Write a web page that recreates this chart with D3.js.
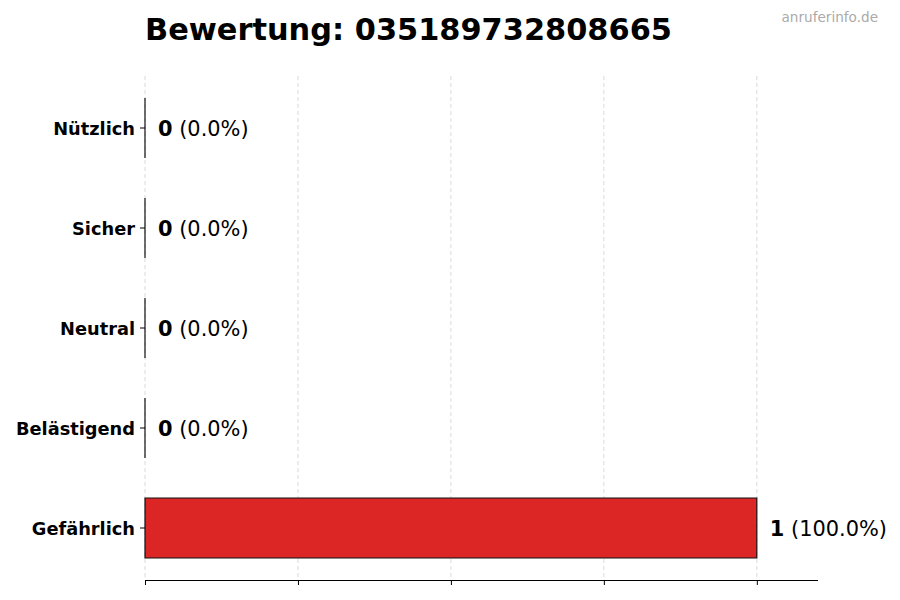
<!DOCTYPE html>
<html><head><meta charset="utf-8">
<script src="https://cdn.jsdelivr.net/npm/d3@7"></script>
<style>body{margin:0;background:#fff}svg{display:block}text{font-family:"DejaVu Sans",sans-serif}</style>
</head><body>
<script>
const categories = ["Nützlich","Sicher","Neutral","Belästigend","Gefährlich"];
const counts = [0,0,0,0,1];
const percents = ["0.0%","0.0%","0.0%","0.0%","100.0%"];
const xTicks = [0,0.25,0.5,0.75,1.0];
const title = "Bewertung: 035189732808665";
const watermark = "anruferinfo.de";

const W=900,H=600;
const svg=d3.select("body").append("svg").attr("width",W).attr("height",H);
const x=d3.scaleLinear().domain([0,1.1]).range([145,818]);
// category index scale (0 = top)
const y=d3.scaleLinear().domain([-0.52,4.52]).range([76,580]);
const barH=0.6;

// grid
svg.append("g").selectAll("line").data(xTicks).join("line")
 .attr("x1",d=>x(d)).attr("x2",d=>x(d)).attr("y1",y(-0.52)).attr("y2",y(4.52))
 .attr("stroke","#d0d0d0").attr("stroke-width",0.8).attr("stroke-dasharray","4,3");

// bars (as paths so zero-width bars still show their edge)
svg.append("g").selectAll("path").data(counts).join("path")
 .attr("d",(d,i)=>{const x0=x(0),x1=x(d),y0=y(i-barH/2),y1=y(i+barH/2);
   return `M${x0},${y0}H${x1}V${y1}H${x0}Z`;})
 .attr("fill","#dc2626").attr("stroke","#111").attr("stroke-width",1.2);

// x axis
const xa=svg.append("g").attr("transform",`translate(0,${y(4.52)})`)
 .call(d3.axisBottom(x).tickValues(xTicks).tickSize(5).tickFormat(""));
xa.select(".domain").attr("d",`M${x(0)},0.5H${x(1.1)}`).attr("stroke","#000");
xa.selectAll(".tick line").attr("stroke","#000");

// y ticks & labels
const yl=svg.append("g");
categories.forEach((c,i)=>{
  yl.append("line").attr("x1",x(0)-5).attr("x2",x(0)).attr("y1",y(i)).attr("y2",y(i)).attr("stroke","#000");
  yl.append("text").attr("x",x(0)-10).attr("y",y(i)).attr("dy","0.42em")
   .attr("text-anchor","end").attr("font-size",17.8).attr("font-weight","bold").text(c);
});

// value labels
categories.forEach((c,i)=>{
  const t=svg.append("text").attr("x",x(counts[i])+13).attr("y",y(i)).attr("dy","0.36em").attr("font-size",20.9);
  t.append("tspan").attr("font-weight","bold").text(counts[i]);
  t.append("tspan").text(" ("+percents[i]+")");
});

// title
svg.append("text").attr("x",145).attr("y",40).attr("font-size",30.4).attr("font-weight","bold").text(title);
svg.append("text").attr("x",878).attr("y",22).attr("text-anchor","end").attr("font-size",13.6).attr("fill","#aaa").text(watermark);
</script>
</body></html>
